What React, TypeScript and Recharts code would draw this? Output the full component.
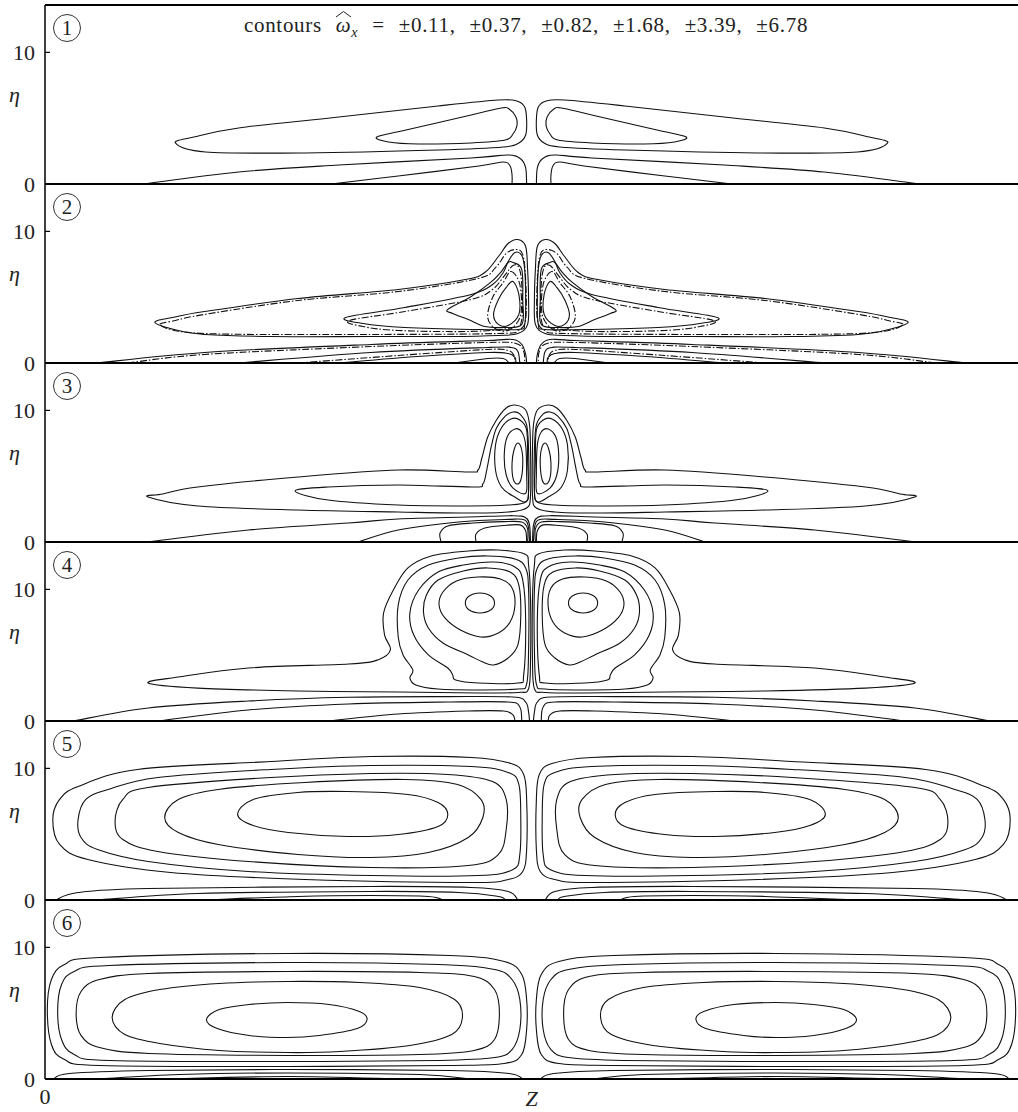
import React from 'react';
import { LineChart, Line, XAxis, YAxis, ReferenceLine } from 'recharts';

// ---------- axes / labels ----------
const Z_DOMAIN: [number, number] = [0, 100];
const ETA_DOMAIN: [number, number] = [0, 13.6];
const ETA_TICKS = [0, 10];
const Z_TICKS = [0];
const PANEL_NUMBERS = ['1', '2', '3', '4', '5', '6'];
const CONTOUR_LEVELS = ['±0.11', '±0.37', '±0.82', '±1.68', '±3.39', '±6.78'];

// ---------- contour data (left half of each symmetric panel), [Z, eta] ----------
// Panel 1
const P1_OUTER = [[13.4,3.12],[16.5,2.43],[26.8,2.36],[40.4,2.58],[47.1,2.81],[48.7,3.12],[49.4,3.72],[49.5,4.86],[49.3,5.85],[48.5,6.31],[46.6,6.38],[40.4,5.93],[30.2,5.09],[19.9,4.26],[15.3,3.57]];
const P1_INNER = [[34.1,3.57],[37.1,4.10],[43.8,5.24],[46.9,5.78],[47.7,5.70],[48.4,5.09],[48.5,4.41],[48.1,3.80],[47.3,3.34],[43.8,3.12],[38.4,3.04],[35.3,3.19]];
const P1_BASE_A = [[10.2,0],[19.9,0.91],[30.2,1.44],[43.8,1.98],[47.6,2.2],[48.9,1.9],[49.4,1.22],[49.5,0]];
const P1_BASE_B = [[29.4,0],[36.3,0.61],[44.6,1.37],[47.1,1.67],[47.8,1.37],[48.0,0.68],[48.0,0]];

// Panel 2 (solid = one solution, dash-dot = the other)
const P2_S1 = [[11.3,3.08],[13.7,2.47],[16.4,2.17],[23.2,2.01],[33.5,2.01],[41.4,2.01],[46.6,2.09],[48.6,2.24],[49.6,2.93],[49.7,4.83],[49.6,7.10],[49.4,8.85],[48.6,9.38],[47.6,9.08],[46.6,8.09],[45.2,6.88],[43.2,6.34],[36.3,5.59],[26.0,4.90],[16.4,3.91],[13.1,3.46]];
const P2_S2 = [[30.9,3.46],[37.0,4.22],[43.8,5.21],[46.0,5.97],[47.1,6.88],[47.6,7.71],[48.3,8.40],[49.0,8.17],[49.3,7.10],[49.4,4.83],[49.3,2.93],[48.6,2.55],[43.8,2.55],[37.0,2.70],[32.7,3.00]];
const P2_S3 = [[41.4,4.07],[43.8,5.05],[45.8,6.12],[46.9,6.95],[47.6,7.64],[48.1,7.64],[49.0,7.10],[49.1,4.83],[49.0,2.93],[47.1,2.70],[45.2,2.77],[43.5,3.31],[41.9,3.76]];
const P2_S4 = [[48.1,6.19],[48.7,5.21],[48.7,3.69],[47.6,2.85],[46.6,2.93],[46.1,3.69],[46.6,4.83],[47.4,5.74]];
const P2_D1 = [[11.9,2.85],[16.4,2.24],[33.5,2.17],[46.6,2.24],[48.6,2.47],[49.4,3.31],[49.4,6.34],[49.1,8.24],[48.4,8.62],[47.4,8.32],[46.3,7.25],[44.5,6.42],[36.3,5.43],[26.0,4.75],[16.4,3.69],[13.4,3.23]];
const P2_D2 = [[31.3,3.23],[37.0,3.91],[43.8,4.83],[46.0,5.59],[47.3,6.72],[48.1,7.41],[48.7,7.25],[49.0,5.97],[49.0,3.31],[48.1,2.70],[43.8,2.40],[36.3,2.47],[32.7,2.77]];
const P2_D3 = [[47.9,6.95],[48.8,5.97],[48.9,3.69],[47.8,2.55],[46.4,2.55],[45.5,3.46],[46.0,4.98],[47.1,6.12]];
const P2_B1 = [[5.4,0],[16.4,0.80],[33.5,1.41],[45.5,1.71],[48.1,1.79],[49.0,1.41],[49.4,0.65],[49.5,0]];
const P2_B2 = [[19.8,0],[33.5,0.80],[45.5,1.18],[47.9,1.18],[48.6,0.87],[48.8,0]];
const P2_B3 = [[30.1,0],[38.3,0.49],[45.5,0.80],[47.6,0.72],[48.3,0.42],[48.4,0]];
const P2_B4 = [[42.1,0],[45.5,0.34],[47.1,0.34],[47.7,0]];
const P2_DB1 = [[8.5,0],[16.4,0.65],[33.5,1.25],[45.5,1.56],[48.4,1.48],[49.2,0.87],[49.3,0]];
const P2_DB2 = [[26.0,0],[36.3,0.57],[45.5,1.03],[47.6,0.95],[48.2,0.57],[48.3,0]];

// Panel 3
const P3_L1 = [[10.6,3.42],[15.7,2.74],[26.0,2.43],[36.3,2.28],[43.5,2.20],[47.6,2.28],[49.5,2.58],[49.9,3.57],[49.9,6.99],[49.8,8.89],[49.4,10.03],[48.3,10.41],[47.4,10.18],[46.4,9.27],[45.5,7.98],[44.9,6.38],[44.5,5.47],[43.5,5.32],[36.3,5.47],[26.0,4.94],[15.7,4.18],[12.1,3.65]];
const P3_L2 = [[25.7,3.88],[29.1,3.19],[36.3,2.81],[43.5,2.74],[47.6,2.81],[49.4,3.04],[49.7,3.95],[49.7,6.99],[49.5,8.89],[48.8,9.73],[48.1,9.88],[47.3,9.57],[46.4,8.66],[45.9,7.37],[45.4,5.47],[45.0,4.41],[44.0,4.18],[36.3,4.33],[29.1,4.18]];
const P3_C1 = [[49.6,3.20],[48.1,3.50],[46.9,4.20],[46.3,5.47],[46.3,7.37],[46.9,8.66],[47.9,9.35],[48.8,9.27],[49.5,8.51],[49.6,6.23]];
const P3_C2 = [[49.4,3.70],[48.1,4.10],[47.4,5.09],[47.2,6.61],[47.5,7.98],[48.3,8.59],[49.0,8.36],[49.4,7.37],[49.5,5.09]];
const P3_C3 = [[48.6,7.52],[49.0,6.99],[49.1,5.85],[48.9,4.71],[48.5,4.41],[48.1,4.86],[48.0,5.99],[48.2,6.99]];
const P3_B1 = [[10.6,0],[20.9,0.91],[31.2,1.44],[36.3,1.75],[43.5,1.90],[48.1,2.00],[49.4,1.85],[49.8,1.29],[49.9,0]];
const P3_B2 = [[32.2,0],[36.3,0.91],[42.5,1.52],[47.6,1.72],[49.3,1.68],[49.7,1.06],[49.8,0]];
const P3_B3 = [[40.7,0],[40.6,0.68],[41.4,1.22],[44.0,1.44],[47.1,1.55],[49.0,1.52],[49.6,1.0],[49.6,0]];
const P3_B4 = [[44.3,0],[44.3,0.61],[45.2,1.06],[47.1,1.25],[48.8,1.30],[49.4,0.85],[49.5,0]];

// Panel 4
const P4_F = [[10.6,2.89],[15.7,2.50],[26.0,2.28],[36.3,2.20],[44.5,2.13],[48.6,2.17],[49.7,2.45],[49.9,4.64],[49.9,9.19],[49.7,11.85],[49.3,12.69],[46.6,12.99],[43.5,12.92],[39.7,12.54],[37.3,11.63],[35.8,9.95],[34.8,8.21],[34.9,6.53],[35.5,5.40],[34.2,4.64],[31.2,4.33],[20.9,4.03],[13.7,3.34]];
const P4_E = [[38.1,2.74],[40.4,2.43],[44.5,2.36],[48.6,2.43],[49.5,2.81],[49.7,5.40],[49.7,9.95],[49.4,11.63],[48.3,12.31],[45.5,12.54],[42.5,12.39],[39.4,11.85],[37.3,10.71],[36.3,8.81],[36.3,6.38],[36.8,5.02],[37.8,3.88],[37.5,3.27]];
const P4_D = [[42.2,3.12],[44.5,2.89],[48.6,2.89],[49.2,3.50],[49.4,7.67],[49.1,10.71],[48.3,11.70],[46.1,12.08],[43.0,11.85],[40.4,11.32],[38.4,9.95],[37.5,8.21],[37.9,6.53],[39.4,5.02],[41.4,4.03],[41.9,3.50]];
const P4_C = [[46.1,4.26],[47.6,4.79],[48.6,5.78],[48.9,8.05],[48.7,10.33],[47.8,11.32],[45.5,11.63],[43.0,11.40],[40.4,10.71],[39.2,9.57],[38.9,8.28],[39.4,7.07],[40.9,5.93],[43.5,5.02],[45.0,4.48]];
const P4_B = [[44.8,6.38],[46.6,6.69],[47.8,7.52],[48.3,8.81],[48.0,10.11],[46.8,10.79],[44.5,10.94],[42.3,10.64],[40.9,9.80],[40.5,8.81],[41.1,7.83],[42.7,6.91]];
const P4_A = [[46.2,8.97],[45.8,9.50],[44.7,9.73],[43.6,9.50],[43.2,8.97],[43.6,8.43],[44.7,8.21],[45.8,8.43]];
const P4_B1 = [[2.9,0],[10.6,0.99],[20.9,1.52],[31.2,1.80],[41.4,1.85],[48.1,1.82],[49.4,1.44],[49.7,0.68],[49.8,0]];
const P4_B2 = [[11.6,0],[20.9,0.84],[31.2,1.29],[41.4,1.44],[47.6,1.44],[48.8,1.06],[49.0,0]];
const P4_B3 = [[29.1,0],[36.3,0.53],[43.5,0.76],[47.1,0.76],[48.1,0.46],[48.3,0]];

// Panel 5
const P5_L1 = [[0.8,6.12],[1.5,7.64],[3.4,8.62],[9.5,9.92],[23.2,10.52],[33.5,10.90],[43.8,10.83],[47.9,10.37],[49.2,9.54],[49.5,7.64],[49.5,3.83],[49.1,2.17],[47.6,1.56],[43.8,1.33],[26.7,1.56],[12.9,2.09],[4.4,3.08],[1.5,4.22]];
const P5_L2 = [[3.4,6.12],[4.2,7.64],[6.5,8.40],[11.6,9.31],[23.2,9.92],[33.5,10.22],[43.8,10.14],[47.6,9.69],[48.7,8.78],[48.9,6.12],[48.8,3.46],[48.1,2.32],[44.5,1.86],[33.5,1.86],[20.9,2.17],[10.6,2.93],[5.4,3.84],[3.7,4.75]];
const P5_L3 = [[7.2,5.97],[8.0,7.64],[10.6,8.55],[23.2,9.31],[33.5,9.61],[41.4,9.54],[46.0,9.00],[47.4,7.64],[47.4,5.36],[46.6,3.46],[43.5,2.62],[33.5,2.47],[20.9,2.93],[11.6,3.69],[8.0,4.60]];
const P5_L4 = [[12.3,6.27],[13.7,7.64],[17.8,8.40],[26.7,8.93],[37.0,9.16],[42.4,8.78],[44.8,7.64],[45.0,6.27],[43.5,4.75],[39.4,3.61],[33.5,3.23],[26.0,3.46],[17.8,4.22],[13.7,5.13]];
const P5_L5 = [[19.8,6.50],[21.4,7.64],[26.0,8.17],[31.1,8.24],[37.3,8.02],[40.4,7.41],[41.4,6.50],[40.4,5.59],[36.3,4.98],[31.1,4.83],[25.0,5.13],[21.4,5.66]];
const P5_B1 = [[1.1,0],[3.4,0.57],[10.6,0.87],[33.5,1.03],[43.8,0.95],[47.6,0.65],[48.6,0]];
const P5_B2 = [[5.4,0],[15.7,0.49],[33.5,0.65],[42.5,0.57],[46.6,0.27],[47.3,0]];
const P5_B3 = [[16.4,0],[26.0,0.27],[33.5,0.34],[39.4,0.27],[40.9,0]];

// Panel 6
const P6_L1 = [[0.24,5.28],[0.66,7.56],[2.0,8.70],[5.6,9.23],[24.9,9.54],[41.6,9.38],[47.2,8.93],[49.0,7.94],[49.5,6.04],[49.5,3.76],[49.0,1.86],[47.2,1.18],[41.6,1.03],[24.9,0.95],[5.6,1.03],[2.0,1.48],[0.66,2.62]];
const P6_L2 = [[1.3,5.13],[1.7,7.18],[3.0,8.17],[6.6,8.62],[24.9,8.85],[40.5,8.70],[46.2,8.32],[48.0,7.56],[48.8,6.04],[48.8,3.76],[48.0,2.24],[46.2,1.63],[40.5,1.41],[24.9,1.33],[6.6,1.41],[3.0,1.86],[1.7,3.00]];
const P6_L3 = [[3.2,4.98],[3.7,6.65],[5.6,7.56],[10.7,8.02],[24.9,8.17],[38.5,8.09],[44.1,7.79],[46.2,6.80],[46.7,4.98],[46.2,3.00],[44.1,2.17],[38.5,1.86],[24.9,1.79],[10.7,1.94],[5.6,2.39],[3.7,3.31]];
const P6_L4 = [[6.9,4.67],[8.2,6.04],[11.8,6.80],[17.9,7.26],[24.9,7.41],[32.3,7.33],[38.5,6.95],[42.1,6.04],[42.9,4.67],[41.8,3.38],[37.5,2.55],[30.3,2.09],[24.9,2.01],[17.9,2.17],[11.8,2.70],[8.2,3.38]];
const P6_L5 = [[16.6,4.52],[17.9,5.28],[21.0,5.66],[24.9,5.81],[29.2,5.66],[32.3,5.13],[33.1,4.52],[32.1,3.84],[28.2,3.31],[24.9,3.15],[21.0,3.31],[17.7,3.84]];
const P6_B1 = [[0.9,0],[2.5,0.42],[10.7,0.65],[24.9,0.72],[41.6,0.65],[47.7,0.42],[49.1,0]];
const P6_B2 = [[5.6,0],[13.8,0.34],[24.9,0.46],[38.5,0.34],[43.6,0]];
const P6_B3 = [[12.8,0],[24.9,0.19],[36.4,0]];

const PANELS = [
  { closed: [P1_OUTER, P1_INNER], open: [P1_BASE_A, P1_BASE_B], closedDash: [], openDash: [] },
  { closed: [P2_S1, P2_S2, P2_S3, P2_S4], open: [P2_B1, P2_B2, P2_B3, P2_B4], closedDash: [P2_D1, P2_D2, P2_D3], openDash: [P2_DB1, P2_DB2] },
  { closed: [P3_L1, P3_L2, P3_C1, P3_C2, P3_C3], open: [P3_B1, P3_B2, P3_B3, P3_B4], closedDash: [], openDash: [] },
  { closed: [P4_F, P4_E, P4_D, P4_C, P4_B, P4_A], open: [P4_B1, P4_B2, P4_B3], closedDash: [], openDash: [] },
  { closed: [P5_L1, P5_L2, P5_L3, P5_L4, P5_L5], open: [P5_B1, P5_B2, P5_B3], closedDash: [], openDash: [] },
  { closed: [P6_L1, P6_L2, P6_L3, P6_L4, P6_L5], open: [P6_B1, P6_B2, P6_B3], closedDash: [], openDash: [] },
];

// ---------- helpers ----------
const FONT = '"Liberation Serif", "DejaVu Serif", serif';
const INK = '#111';
const PANEL_H = 179;
const TOP0 = 5;

const rows = (pts: number[][]) => pts.map(([z, eta]) => ({ z, eta }));
const mirrored = (pts: number[][]) => pts.map(([z, eta]) => ({ z: Z_DOMAIN[1] - z, eta }));

// Catmull-Rom interpolation through the read points (closed or open)
const catmull = (closed: boolean) => (context: any) => {
  let pts: number[][] = [];
  return {
    areaStart() {},
    areaEnd() {},
    lineStart() { pts = []; },
    point(x: number, y: number) { pts.push([+x, +y]); },
    lineEnd() {
      const n = pts.length;
      if (!n) return;
      const get = (i: number) => (closed ? pts[(i + n) % n] : pts[Math.max(0, Math.min(n - 1, i))]);
      context.moveTo(pts[0][0], pts[0][1]);
      const segs = closed ? n : n - 1;
      for (let i = 0; i < segs; i++) {
        const p0 = get(i - 1), p1 = get(i), p2 = get(i + 1), p3 = get(i + 2);
        context.bezierCurveTo(
          p1[0] + (p2[0] - p0[0]) / 6, p1[1] + (p2[1] - p0[1]) / 6,
          p2[0] - (p3[0] - p1[0]) / 6, p2[1] - (p3[1] - p1[1]) / 6,
          p2[0], p2[1]
        );
      }
      if (closed) context.closePath();
    },
  };
};
const CLOSED_CURVE = catmull(true);
const OPEN_CURVE = catmull(false);

function Panel({ index }: { index: number }) {
  const p = PANELS[index];
  const last = index === PANELS.length - 1;
  const series: { data: any[]; closed: boolean; dash: boolean }[] = [];
  const add = (list: number[][][], closed: boolean, dash: boolean) =>
    list.forEach((pts) => {
      series.push({ data: rows(pts), closed, dash });
      series.push({ data: mirrored(pts), closed, dash });
    });
  add(p.closed, true, false);
  add(p.open, false, false);
  add(p.closedDash, true, true);
  add(p.openDash, false, true);
  const xH = last ? 33 : 2;
  return (
    <div style={{ position: 'absolute', left: 0, top: PANEL_H * index, width: 1018 }}>
      <LineChart width={1018} height={TOP0 + PANEL_H + xH} margin={{ top: TOP0, right: 0, left: 0, bottom: 0 }}>
        <XAxis
          type="number"
          dataKey="z"
          domain={Z_DOMAIN}
          allowDataOverflow
          ticks={last ? Z_TICKS : []}
          tick={last ? { fill: '#222', fontSize: 22, fontFamily: FONT } : false}
          tickLine={false}
          tickSize={6}
          tickMargin={3}
          height={xH}
          axisLine={{ stroke: '#000', strokeWidth: 2 }}
          label={last ? { value: 'Z', position: 'insideBottom', offset: 6, style: { fontStyle: 'italic', fontSize: 22, fontFamily: FONT, fill: '#222' } } : undefined}
        />
        <YAxis
          type="number"
          domain={ETA_DOMAIN}
          allowDataOverflow
          ticks={ETA_TICKS}
          interval={0}
          width={45}
          tickSize={-5}
          tickMargin={15}
          axisLine={{ stroke: '#000', strokeWidth: 1.5 }}
          tickLine={{ stroke: '#000', strokeWidth: 1.2 }}
          tick={{ fill: '#222', fontSize: 22, fontFamily: FONT }}
          label={{ value: 'η', position: 'insideLeft', offset: 9, style: { fontStyle: 'italic', fontSize: 22, fontFamily: FONT, fill: '#222' } }}
        />
        {index === 0 && <ReferenceLine y={ETA_DOMAIN[1]} stroke="#000" strokeWidth={2} ifOverflow="visible" />}
        {series.map((s, i) => (
          <Line
            key={i}
            data={s.data}
            dataKey="eta"
            type={s.closed ? CLOSED_CURVE : OPEN_CURVE}
            stroke={INK}
            strokeWidth={1.1}
            strokeDasharray={s.dash ? '7 2 1.5 2' : undefined}
            dot={false}
            activeDot={false}
            legendType="none"
            isAnimationActive={false}
          />
        ))}
      </LineChart>
      <div
        style={{
          position: 'absolute', left: 53, top: TOP0 + 9, width: 28, height: 28, boxSizing: 'border-box',
          border: '1.2px solid #333', borderRadius: '50%', textAlign: 'center', lineHeight: '26px',
          fontSize: 21, fontFamily: FONT, color: '#222',
        }}
      >
        {PANEL_NUMBERS[index]}
      </div>
    </div>
  );
}

export default function App() {
  return (
    <div style={{ position: 'absolute', left: 0, top: 0, width: 1018, height: 1112, background: '#fff', overflow: 'hidden' }}>
      <style>{'.recharts-surface{overflow:visible}.recharts-wrapper{overflow:visible}'}</style>
      {PANELS.map((_, i) => (
        <Panel key={i} index={i} />
      ))}
      <div
        style={{
          position: 'absolute', left: 176, top: 12, width: 700, textAlign: 'center', whiteSpace: 'nowrap',
          fontSize: 21, lineHeight: '26px', fontFamily: FONT, color: '#222', wordSpacing: 8, letterSpacing: 0.7,
        }}
      >
        contours{' '}
        <span style={{ position: 'relative', display: 'inline-block', fontStyle: 'italic' }}>
          ω
          <svg
            width={15}
            height={6}
            style={{ position: 'absolute', left: 0, top: -1, overflow: 'visible' }}
          >
            <polyline points="0,6 7.5,0.5 15,6" fill="none" stroke="#222" strokeWidth={1} />
          </svg>
        </span>
        <sub style={{ fontSize: 14 }}><i>x</i></sub> = {CONTOUR_LEVELS.join(', ')}
      </div>
    </div>
  );
}
